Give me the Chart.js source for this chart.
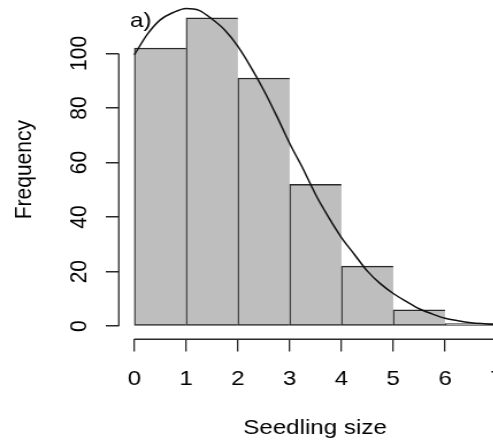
<!DOCTYPE html>
<html>
<head>
<meta charset="utf-8">
<script src="https://cdn.jsdelivr.net/npm/chart.js@4.4.0/dist/chart.umd.min.js"></script>
<style>
  html, body { margin: 0; padding: 0; background: #fff; overflow: hidden; width: 493px; height: 440px; }
  #wrap { width: 470px; height: 440px; transform: scaleX(1.15); transform-origin: 0 0; }
</style>
</head>
<body>
<div id="wrap"><canvas id="c" width="470" height="440"></canvas></div>
<script>
// Histogram bins (edges) and counts
const binEdges = [0, 1, 2, 3, 4, 5, 6, 7];
const counts = [102, 113, 91, 52, 22, 6, 1];

// Fitted density curve, scaled to frequency
const curveX = [0, 0.25, 0.5, 0.75, 1, 1.25, 1.5, 1.75, 2, 2.25, 2.5, 2.75, 3, 3.25, 3.5,
                3.75, 4, 4.25, 4.5, 4.75, 5, 5.25, 5.5, 5.75, 6, 6.25, 6.5, 6.75, 7, 7.25];
const curveY = [99.5, 107, 112.3, 115, 116.5, 115.8, 112.6, 108.5, 102.6, 95, 86.5, 77, 67, 58, 48.3,
                40, 32.5, 26.3, 20.2, 15.6, 12, 9.1, 6.4, 4.5, 2.9, 2, 1.3, 0.9, 0.6, 0.4];

// Axis ticks and labels
const xTicks = [0, 1, 2, 3, 4, 5, 6, 7];
const yTicks = [0, 20, 40, 60, 80, 100];
const xTitle = 'Seedling size';
const yTitle = 'Frequency';
const panelLabel = 'a)';

const FONT = '"Liberation Sans", Arial, Helvetica, sans-serif';
const INK = '#000000';
const LINE = '#2a2a2a';

const barData = counts.map((c, i) => ({ x: (binEdges[i] + binEdges[i + 1]) / 2, y: c }));
const curveData = curveX.map((x, i) => ({ x: x, y: curveY[i] }));

// Axis lines that span only the tick range, plus the panel tag
const axisLines = {
  id: 'axisLines',
  afterDraw(chart) {
    const { ctx, chartArea, scales } = chart;
    const xs = scales.x, ys = scales.y;
    ctx.save();
    ctx.strokeStyle = LINE;
    ctx.lineWidth = 1.5;
    ctx.beginPath();
    ctx.moveTo(xs.getPixelForValue(xTicks[0]), chartArea.bottom);
    ctx.lineTo(xs.getPixelForValue(xTicks[xTicks.length - 1]), chartArea.bottom);
    ctx.stroke();
    ctx.lineWidth = 1.3;
    ctx.beginPath();
    ctx.moveTo(chartArea.left, ys.getPixelForValue(yTicks[0]));
    ctx.lineTo(chartArea.left, ys.getPixelForValue(yTicks[yTicks.length - 1]));
    ctx.stroke();
    ctx.fillStyle = INK;
    ctx.font = '21px ' + FONT;
    ctx.textAlign = 'left';
    ctx.textBaseline = 'alphabetic';
    ctx.fillText(panelLabel, chartArea.left + 9.7, 26.5);
    ctx.restore();
  }
};

new Chart(document.getElementById('c'), {
  type: 'bar',
  data: {
    datasets: [
      {
        type: 'line',
        order: 0,
        data: curveData,
        borderColor: '#111',
        borderWidth: 1.5,
        pointRadius: 0,
        fill: false,
        cubicInterpolationMode: 'monotone'
      },
      {
        type: 'bar',
        order: 1,
        data: barData,
        backgroundColor: '#bebebe',
        borderColor: LINE,
        borderSkipped: false,
        borderWidth: (c) => ({ top: 1.5, bottom: 1.5, left: 1.3, right: c.dataIndex === counts.length - 1 ? 1.3 : 0 }),
        barPercentage: 1,
        categoryPercentage: 1
      }
    ]
  },
  options: {
    responsive: false,
    animation: false,
    events: [],
    layout: { padding: { left: 0, top: 0, right: 25.4, bottom: 0 } },
    plugins: { legend: { display: false }, tooltip: { enabled: false } },
    scales: {
      x: {
        type: 'linear',
        min: -0.3,
        max: 7.28,
        offset: false,
        afterBuildTicks: (s) => { s.ticks = xTicks.map(v => ({ value: v })); },
        afterFit: (s) => { s.height = 100.7; s.paddingLeft = 0; s.paddingRight = 0; },
        grid: { drawOnChartArea: false, drawTicks: true, tickLength: 12.3, color: LINE, lineWidth: 1.3, offset: false },
        border: { display: false },
        ticks: { autoSkip: false, minRotation: 0, maxRotation: 0, padding: 15, color: INK, font: { family: FONT, size: 21 } },
        title: { display: true, text: xTitle, color: INK, font: { family: FONT, size: 21 }, padding: { top: 0, bottom: -1 } }
      },
      y: {
        type: 'linear',
        min: -4.80,
        max: 119.58,
        afterBuildTicks: (s) => { s.ticks = yTicks.map(v => ({ value: v })); },
        afterFit: (s) => { s.width = 103.3; s.paddingTop = 0; s.paddingBottom = 0; },
        grid: { drawOnChartArea: false, drawTicks: true, tickLength: 11.3, color: LINE, lineWidth: 1.5 },
        border: { display: false },
        ticks: { autoSkip: false, minRotation: 90, maxRotation: 90, crossAlign: 'center', padding: 4.9, color: INK, font: { family: FONT, size: 21 } },
        title: { display: true, text: yTitle, color: INK, font: { family: FONT, size: 21 }, padding: { top: 8.4, bottom: 0 } }
      }
    }
  },
  plugins: [axisLines]
});
</script>
</body>
</html>
